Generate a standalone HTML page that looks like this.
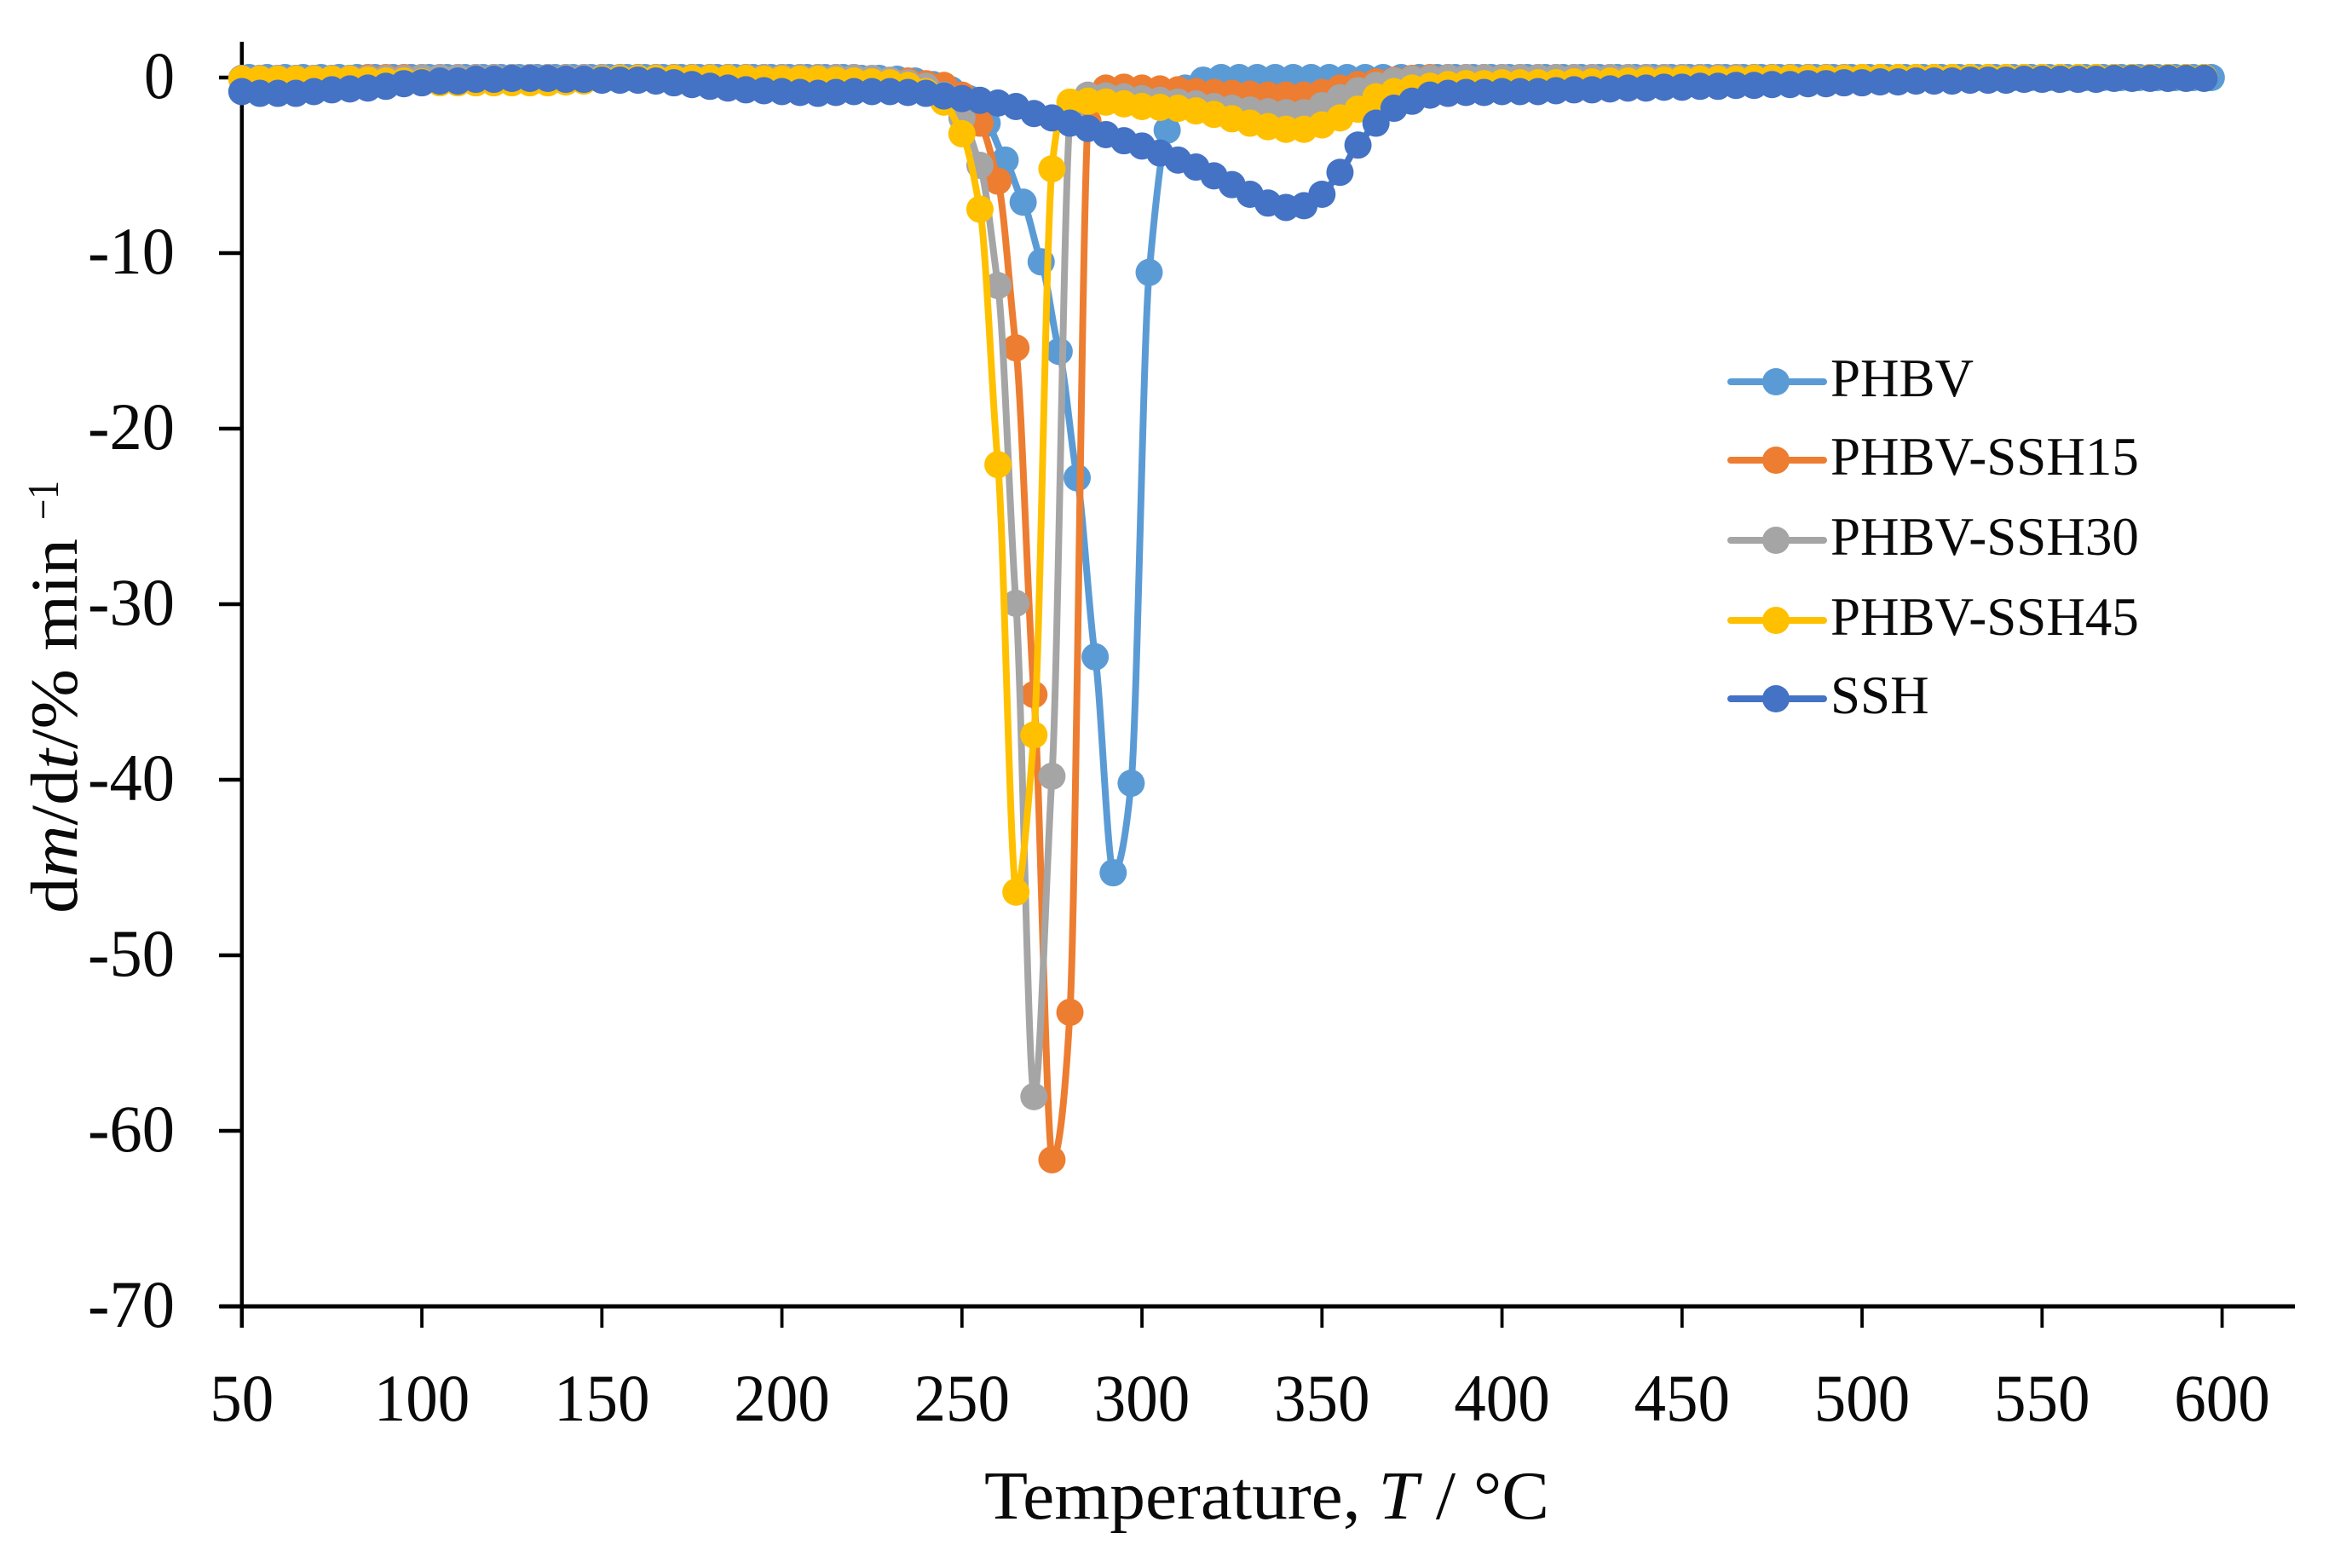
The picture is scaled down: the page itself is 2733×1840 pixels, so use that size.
<!DOCTYPE html>
<html lang="en">
<head>
<meta charset="utf-8">
<title>DTG curves</title>
<style>
html,body{margin:0;padding:0;background:#fff;}
svg{display:block;}
text{font-family:"Liberation Serif","DejaVu Serif",serif;fill:#0a0a0a;}
</style>
</head>
<body>
<svg id="chart" xmlns="http://www.w3.org/2000/svg" width="2733" height="1840" viewBox="0 0 2733 1840">
  <rect width="2733" height="1840" fill="#fff"/>
  <text x="1155" y="1782" font-size="80" textLength="663" lengthAdjust="spacingAndGlyphs">Temperature, <tspan font-style="italic">T</tspan> / °C</text>
  <g transform="translate(90,1072) rotate(-90)">
    <text x="0" y="0" font-size="78" textLength="440" lengthAdjust="spacingAndGlyphs">d<tspan font-style="italic">m</tspan>/d<tspan font-style="italic">t</tspan>/% min</text>
    <text x="462" y="-22" font-size="52" textLength="46" lengthAdjust="spacingAndGlyphs">−1</text>
  </g>
  <g id="axes"></g>
  <g id="series"></g>
  <g id="legend"></g>
</svg>
<script>
const xTicks = [50,100,150,200,250,300,350,400,450,500,550,600];
const yTicks = [0,-10,-20,-30,-40,-50,-60,-70];

const temperatures = [
50,55,60,65,70,75,80,85,90,95,
100,105,110,115,120,125,130,135,140,145,
150,155,160,165,170,175,180,185,190,195,
200,205,210,215,220,225,230,235,240,245,
250,255,260,265,270,275,280,285,290,295,
300,305,310,315,320,325,330,335,340,345,
350,355,360,365,370,375,380,385,390,395,
400,405,410,415,420,425,430,435,440,445,
450,455,460,465,470,475,480,485,490,495,
500,505,510,515,520,525,530,535,540,545,
550,555,560,565,570,575,580,585,590,595];

const temperaturesPHBV = [
52,57,62,67,72,77,82,87,92,97,
102,107,112,117,122,127,132,137,142,147,
152,157,162,167,172,177,182,187,192,197,
202,207,212,217,222,227,232,237,242,247,
252,257,262,267,272,277,282,287,292,297,
302,307,312,317,322,327,332,337,342,347,
352,357,362,367,372,377,382,387,392,397,
402,407,412,417,422,427,432,437,442,447,
452,457,462,467,472,477,482,487,492,497,
502,507,512,517,522,527,532,537,542,547,
552,557,562,567,572,577,582,587,592,597];

const valuesPHBV = [
0,0,0,0,0,0,0,0,0,0,
0,0,0,0,0,0,0,0,0,0,
0,0,0,0,0,0,0,0,0,0,
0,0,0,0,-0.05,-0.05,-0.1,-0.2,-0.4,-0.7,
-1.2,-2.6,-4.7,-7.1,-10.5,-15.6,-22.8,-33,-45.3,-40.2,
-11.1,-3.0,-0.6,-0.15,0,0,0,0,0,0,
0,0,0,0,0,0,0,0,0,0,
0,0,0,0,0,0,0,0,0,0,
0,0,0,0,0,0,0,0,0,0,
0,0,0,0,0,0,0,0,0,0,
0,0,0,0,0,0,0,0,0,0];

const valuesSSH15 = [
-0.05,-0.05,-0.05,-0.05,-0.05,-0.05,-0.05,0,0,0,
0,0,0,0,0,0,0,0,0,0,
0,0,0,0,0,0,0,0,0,0,
0,0,0,0,0,-0.1,-0.2,-0.2,-0.35,-0.45,
-1.0,-2.6,-5.9,-15.4,-35.15,-61.65,-53.25,-2.5,-0.6,-0.55,
-0.6,-0.65,-0.7,-0.8,-0.85,-0.9,-0.95,-1.0,-1.0,-1.0,
-0.85,-0.6,-0.4,-0.25,-0.15,-0.05,0,0,0,0,
0,0,0,0,0,0,0,0,0,0,
0,0,0,0,0,0,0,0,0,0,
0,0,0,0,0,0,0,0,0,0,
0,0,0,0,0,0,0,0,0,0];

const valuesSSH30 = [
-0.05,-0.05,-0.05,-0.05,-0.05,-0.05,-0.05,-0.05,-0.05,-0.05,
0,0,0,0,0,0,0,0,0,0,
0,0,0,0,0,0,0,0,0,0,
0,0,0,0,0,-0.05,-0.15,-0.3,-0.5,-1.0,
-2.3,-5.0,-11.85,-29.95,-58.05,-39.8,-2.2,-1.0,-1.05,-1.1,
-1.2,-1.3,-1.4,-1.5,-1.65,-1.75,-1.85,-1.95,-2.0,-2.0,
-1.6,-1.15,-0.75,-0.45,-0.2,-0.1,-0.05,0,0,0,
0,0,0,0,0,0,0,0,0,0,
0,0,0,0,0,0,0,0,0,0,
0,0,0,0,0,0,0,0,0,0,
0,0,0,0,0,0,0,0,0,0];

const valuesSSH45 = [
-0.1,-0.1,-0.1,-0.1,-0.1,-0.1,-0.1,-0.15,-0.2,-0.2,
-0.25,-0.3,-0.3,-0.3,-0.3,-0.3,-0.3,-0.3,-0.25,-0.2,
-0.1,-0.05,-0.05,-0.05,-0.05,-0.05,-0.05,-0.05,-0.05,-0.1,
-0.1,-0.1,-0.1,-0.15,-0.2,-0.25,-0.3,-0.45,-0.8,-1.4,
-3.2,-7.5,-22.05,-46.4,-37.45,-5.2,-1.4,-1.35,-1.4,-1.5,
-1.65,-1.7,-1.75,-1.9,-2.1,-2.35,-2.6,-2.8,-2.95,-2.95,
-2.7,-2.3,-1.8,-1.1,-0.8,-0.6,-0.5,-0.4,-0.35,-0.35,
-0.3,-0.3,-0.3,-0.3,-0.25,-0.25,-0.2,-0.2,-0.15,-0.15,
-0.1,-0.1,-0.1,-0.1,-0.05,-0.05,-0.05,-0.05,-0.05,-0.05,
0,0,0,0,0,0,0,0,0,0,
0,0,0,0,0,0,0,0,0,0];

const valuesSSH = [
-0.8,-0.9,-0.9,-0.9,-0.8,-0.7,-0.65,-0.6,-0.5,-0.35,
-0.3,-0.2,-0.2,-0.1,-0.1,-0.05,-0.05,-0.05,-0.1,-0.1,
-0.15,-0.15,-0.15,-0.2,-0.3,-0.4,-0.5,-0.6,-0.7,-0.75,
-0.8,-0.85,-0.9,-0.85,-0.8,-0.8,-0.8,-0.85,-0.9,-1.05,
-1.2,-1.3,-1.45,-1.65,-2.05,-2.3,-2.6,-2.9,-3.25,-3.6,
-3.9,-4.3,-4.7,-5.1,-5.6,-6.1,-6.65,-7.15,-7.4,-7.3,
-6.65,-5.4,-3.85,-2.6,-1.75,-1.35,-1.0,-0.9,-0.85,-0.85,
-0.8,-0.8,-0.8,-0.75,-0.7,-0.7,-0.65,-0.6,-0.6,-0.55,
-0.55,-0.5,-0.5,-0.45,-0.45,-0.4,-0.4,-0.35,-0.35,-0.3,
-0.3,-0.25,-0.25,-0.2,-0.2,-0.2,-0.15,-0.15,-0.15,-0.1,
-0.1,-0.1,-0.1,-0.1,-0.05,-0.05,-0.05,-0.05,-0.05,-0.05];

const seriesNames = ["PHBV","PHBV-SSH15","PHBV-SSH30","PHBV-SSH45","SSH"];
const seriesColors = ["#5B9BD5","#ED7D31","#A5A5A5","#FFC000","#4472C4"];
const seriesX = [temperaturesPHBV,temperatures,temperatures,temperatures,temperatures];
const seriesY = [valuesPHBV,valuesSSH15,valuesSSH30,valuesSSH45,valuesSSH];

const NS = "http://www.w3.org/2000/svg";
const xScale = t => 283.8 + (t - 50) * 4.225;
const yScale = v => 91 + (-v) * 20.6;

function make(tag, attrs, parent) {
  const el = document.createElementNS(NS, tag);
  for (const k in attrs) el.setAttribute(k, attrs[k]);
  parent.appendChild(el);
  return el;
}

function smoothPath(pts) {
  let d = "M" + pts[0][0].toFixed(2) + " " + pts[0][1].toFixed(2);
  for (let i = 0; i < pts.length - 1; i++) {
    const p0 = pts[Math.max(i - 1, 0)], p1 = pts[i], p2 = pts[i + 1], p3 = pts[Math.min(i + 2, pts.length - 1)];
    const lo = Math.min(p1[1], p2[1]), hi = Math.max(p1[1], p2[1]);
    const c1x = p1[0] + (p2[0] - p0[0]) / 6;
    const c1y = Math.min(hi, Math.max(lo, p1[1] + (p2[1] - p0[1]) / 10));
    const c2x = p2[0] - (p3[0] - p1[0]) / 6;
    const c2y = Math.min(hi, Math.max(lo, p2[1] - (p3[1] - p1[1]) / 10));
    d += "C" + c1x.toFixed(2) + " " + c1y.toFixed(2) + " " + c2x.toFixed(2) + " " + c2y.toFixed(2) + " " + p2[0].toFixed(2) + " " + p2[1].toFixed(2);
  }
  return d;
}

const axes = document.getElementById("axes");
const yAxisLine = make("line", {x1: xScale(50), x2: xScale(50), y1: 49, y2: 1558, stroke: "#000", "stroke-width": 4.5}, axes);


const xAxisLine = make("line", {x1: 258, x2: 2693, y1: yScale(-70), y2: yScale(-70), stroke: "#000", "stroke-width": 5}, axes);



xTicks.forEach(t => {
  const tick = make("line", {x1: xScale(t), x2: xScale(t), y1: yScale(-70), y2: 1558, stroke: "#000", "stroke-width": 3.8}, axes);
  
  
  const s = String(t);
  const label = make("text", {x: xScale(t), y: 1667, "font-size": 78, "text-anchor": "middle", textLength: s.length * 37.5, lengthAdjust: "spacingAndGlyphs"}, axes);
  label.textContent = s;
  
  
});

yTicks.forEach(v => {
  const tick = make("line", {x1: 257, x2: xScale(50), y1: yScale(v), y2: yScale(v), stroke: "#000", "stroke-width": 4.5}, axes);
  
  
  const s = String(v);
  const label = make("text", {x: 205, y: yScale(v) + 24, "font-size": 78, "text-anchor": "end", textLength: v === 0 ? 36 : 102, lengthAdjust: "spacingAndGlyphs"}, axes);
  label.textContent = s;
  
  
});

const seriesRoot = document.getElementById("series");
seriesNames.forEach((name, s) => {
  const g = make("g", {}, seriesRoot);
  
  
  const pts = seriesX[s].map((t, i) => [xScale(t), yScale(seriesY[s][i])]);
  const path = make("path", {d: smoothPath(pts), fill: "none", stroke: seriesColors[s], "stroke-width": 8, "stroke-linejoin": "round", "stroke-linecap": "round"}, g);
  
  
  pts.forEach(p => {
    const dot = make("circle", {cx: p[0], cy: p[1], r: 16, fill: seriesColors[s]}, g);
    
    
  });
});

const legendRoot = document.getElementById("legend");
const legendRowY = [448, 540, 634, 728, 820];
seriesNames.forEach((name, s) => {
  const g = make("g", {}, legendRoot);
  
  
  const ln = make("line", {x1: 2031, x2: 2140, y1: legendRowY[s], y2: legendRowY[s], stroke: seriesColors[s], "stroke-width": 8, "stroke-linecap": "round"}, g);
  
  
  const dot = make("circle", {cx: 2084, cy: legendRowY[s], r: 16, fill: seriesColors[s]}, g);
  
  
  const label = make("text", {x: 2148, y: legendRowY[s] + 17, "font-size": 63}, g);
  label.textContent = name;
  
  
});
</script>
</body>
</html>
